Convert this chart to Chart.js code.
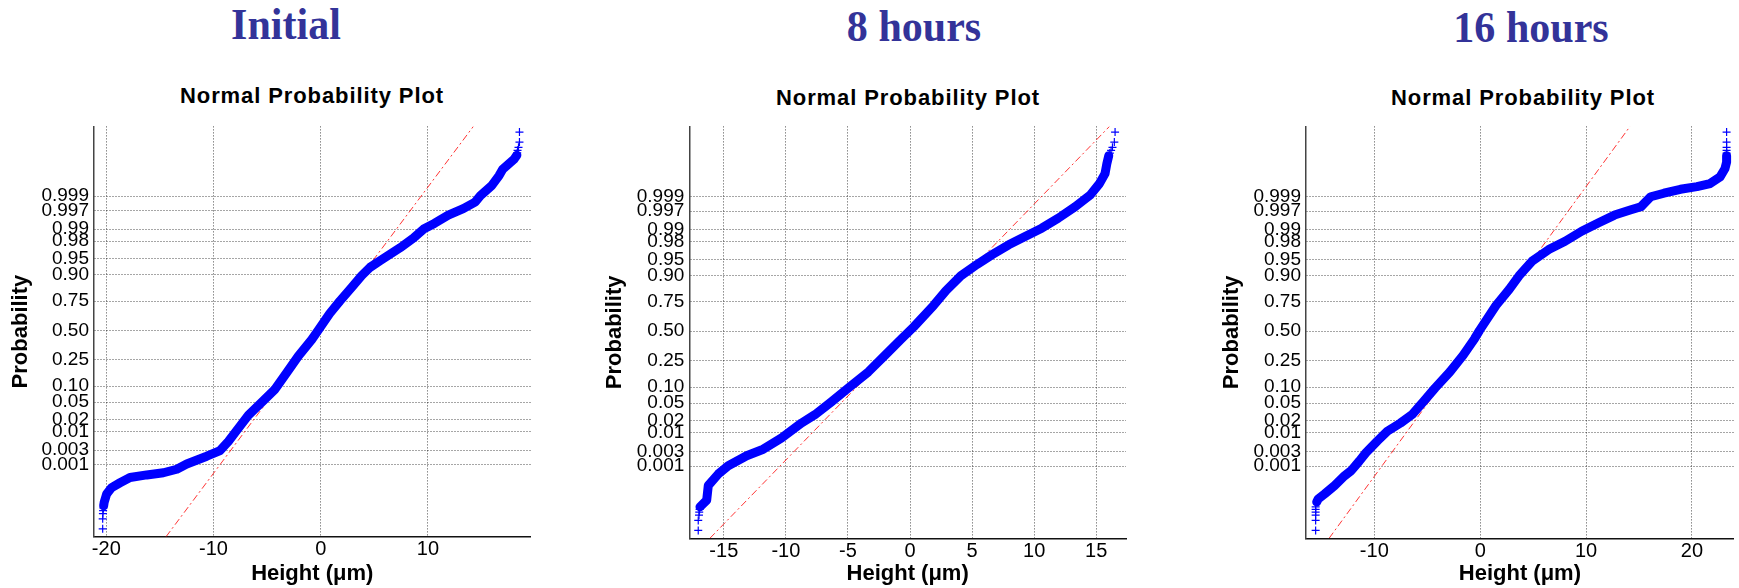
<!DOCTYPE html>
<html>
<head>
<meta charset="utf-8">
<script src="https://cdn.jsdelivr.net/npm/chart.js@4.4.1/dist/chart.umd.min.js"></script>
<style>
  html, body { margin: 0; padding: 0; background: #fff; }
  body { width: 1739px; height: 588px; position: relative; overflow: hidden; font-family: "Liberation Sans", Arial, sans-serif; }
  .stage-title { position: absolute; font-family: "Liberation Serif", "Times New Roman", serif; font-weight: bold; font-size: 44px; line-height: 44px; color: #333399; white-space: nowrap; transform: translateX(-50%) scaleX(0.955); }
  .plot-title { position: absolute; font-weight: bold; font-size: 22px; line-height: 22px; letter-spacing: 0.9px; color: #000; white-space: nowrap; transform: translateX(-50%); }
  canvas { position: absolute; top: 110px; }
</style>
</head>
<body>
  <div class="stage-title" style="left:286px; top:3px;">Initial</div>
  <div class="stage-title" style="left:914px; top:5px;">8 hours</div>
  <div class="stage-title" style="left:1531px; top:6px;">16 hours</div>

  <div class="plot-title" style="left:312px; top:85px;">Normal Probability Plot</div>
  <div class="plot-title" style="left:908px; top:87px;">Normal Probability Plot</div>
  <div class="plot-title" style="left:1523px; top:87px;">Normal Probability Plot</div>

  <canvas id="initialChart" width="560" height="478" style="left:0px;"></canvas>
  <canvas id="eightChart" width="580" height="478" style="left:570px;"></canvas>
  <canvas id="sixteenChart" width="559" height="478" style="left:1180px;"></canvas>

<script>
// probability axis labels (plotted at their standard normal quantiles)
const probLabels = ["0.001", "0.003", "0.01", "0.02", "0.05", "0.10", "0.25", "0.50", "0.75", "0.90", "0.95", "0.98", "0.99", "0.997", "0.999"];

// Initial
const initialXTicks = [-20, -10, 0, 10];
const initialHeight = [-20.25, -20.2, -19.97, -19.5, -18.72, -17.79, -16.23, -14.68, -13.43, -12.5, -10.63, -9.39, -8.62, -7.69, -6.75, -5.5, -4.26, -3.17, -2.09, -0.84, -0.25, 0.84, 1.8, 2.89, 3.82, 4.6, 5.53, 7.4, 8.64, 9.6, 10.6, 11.9, 13.3, 14.4, 14.9, 15.95, 16.64, 16.99, 18.02, 18.3];
const initialQuantile = [-4.03, -3.95, -3.76, -3.61, -3.5, -3.38, -3.32, -3.27, -3.19, -3.07, -2.89, -2.76, -2.55, -2.25, -1.95, -1.65, -1.35, -0.97, -0.59, -0.21, 0.0, 0.39, 0.68, 0.99, 1.26, 1.45, 1.6, 1.9, 2.12, 2.33, 2.46, 2.65, 2.8, 2.95, 3.1, 3.33, 3.56, 3.71, 3.93, 4.03];
const initialTailHeight = [-20.34, -20.34, -20.32, -20.3, -20.28, 18.33, 18.36, 18.45, 18.54, 18.54];
const initialTailQuantile = [-4.56, -4.33, -4.21, -4.14, -4.08, 4.08, 4.14, 4.21, 4.33, 4.56];
const initialFitHeight = [-14.43, 14.24];
const initialFitQuantile = [-4.74, 4.69];

// 8 hours
const eightXTicks = [-15, -10, -5, 0, 5, 10, 15];
const eightHeight = [-16.92, -16.38, -16.25, -15.45, -14.64, -13.16, -11.82, -10.34, -8.73, -7.66, -6.31, -4.97, -3.36, -2.01, -0.67, 0.3, 1.9, 2.9, 4.1, 5.4, 6.65, 7.95, 9.27, 10.61, 11.95, 13.3, 14.52, 15.26, 15.71, 15.86, 16.01];
const eightQuantile = [-4.02, -3.87, -3.53, -3.27, -3.08, -2.85, -2.7, -2.44, -2.1, -1.91, -1.61, -1.3, -0.93, -0.55, -0.17, 0.1, 0.59, 0.93, 1.27, 1.53, 1.76, 1.98, 2.17, 2.36, 2.59, 2.85, 3.12, 3.38, 3.61, 3.84, 4.02];
const eightTailHeight = [-17.06, -17.06, -17.0, -16.98, -16.95, 16.1, 16.2, 16.31, 16.46, 16.52];
const eightTailQuantile = [-4.56, -4.33, -4.21, -4.14, -4.08, 4.08, 4.14, 4.21, 4.33, 4.56];
const eightFitHeight = [-16.12, 16.07];
const eightFitQuantile = [-4.74, 4.69];

// 16 hours
const sixteenXTicks = [-10, 0, 10, 20];
const sixteenHeight = [-15.44, -15.3, -14.67, -13.74, -12.81, -12.18, -11.41, -10.78, -9.7, -8.77, -7.52, -6.44, -5.35, -4.26, -2.86, -1.61, -0.53, -0.06, 1.49, 2.74, 3.67, 4.92, 6.47, 8.02, 9.58, 11.14, 12.69, 14.24, 15.18, 16.11, 17.35, 18.91, 20.47, 21.71, 22.64, 23.11, 23.27, 23.27];
const sixteenQuantile = [-3.91, -3.84, -3.72, -3.53, -3.31, -3.19, -2.97, -2.78, -2.51, -2.29, -2.1, -1.91, -1.61, -1.3, -0.93, -0.55, -0.17, 0.02, 0.59, 0.96, 1.27, 1.61, 1.87, 2.06, 2.29, 2.48, 2.66, 2.78, 2.85, 3.08, 3.16, 3.25, 3.31, 3.38, 3.53, 3.72, 3.87, 4.02];
const sixteenTailHeight = [-15.54, -15.54, -15.54, -15.54, -15.54, -15.54, 23.27, 23.27, 23.27, 23.27, 23.27];
const sixteenTailQuantile = [-4.56, -4.33, -4.21, -4.14, -4.08, -4.02, 4.08, 4.14, 4.21, 4.33, 4.56];
const sixteenFitHeight = [-14.27, 14.15];
const sixteenFitQuantile = [-4.74, 4.69];

const FONT = '"Liberation Sans", Arial, sans-serif';
const CANVAS_TOP = 110;
const CANVAS_BOTTOM = 588;

// inverse standard normal CDF (Acklam)
function normInv(p) {
  const a = [-39.69683028665376, 220.9460984245205, -275.9285104469687, 138.3577518672690, -30.66479806614716, 2.506628277459239];
  const b = [-54.47609879822406, 161.5858368580409, -155.6989798598866, 66.80131188771972, -13.28068155288572];
  const c = [-0.007784894002430293, -0.3223964580411365, -2.400758277161838, -2.549732539343734, 4.374664141464968, 2.938163982698783];
  const d = [0.007784695709041462, 0.3224671290700398, 2.445134137142996, 3.754408661907416];
  const tail = q => (((((c[0] * q + c[1]) * q + c[2]) * q + c[3]) * q + c[4]) * q + c[5]) / ((((d[0] * q + d[1]) * q + d[2]) * q + d[3]) * q + 1);
  if (p < 0.02425) return tail(Math.sqrt(-2 * Math.log(p)));
  if (p > 1 - 0.02425) return -tail(Math.sqrt(-2 * Math.log(1 - p)));
  const q = p - 0.5, r = q * q;
  return (((((a[0] * r + a[1]) * r + a[2]) * r + a[3]) * r + a[4]) * r + a[5]) * q /
    (((((b[0] * r + b[1]) * r + b[2]) * r + b[3]) * r + b[4]) * r + 1);
}

const toPoints = (xs, ys) => xs.map((x, i) => ({ x, y: ys[i] }));

function renderPanel(canvasId, panel) {
  const canvas = document.getElementById(canvasId);
  const canvasLeft = parseFloat(canvas.style.left);
  const canvasWidth = canvas.width;

  new Chart(canvas, {
    type: "scatter",
    data: {
      datasets: [
        {
          data: toPoints(panel.height, panel.quantile),
          showLine: true,
          borderColor: "#0000ff",
          borderWidth: 9,
          borderJoinStyle: "round",
          borderCapStyle: "round",
          pointRadius: 0,
          order: 1,
        },
        {
          data: toPoints(panel.tailHeight, panel.tailQuantile),
          showLine: false,
          pointStyle: "cross",
          pointRadius: 4,
          pointBorderWidth: 1.2,
          pointBorderColor: "#0000ff",
          order: 2,
        },
        {
          data: toPoints(panel.fitHeight, panel.fitQuantile),
          showLine: true,
          borderColor: "rgba(255,0,0,0.8)",
          borderWidth: 1,
          borderDash: [7, 3, 2, 3],
          pointRadius: 0,
          order: 3,
        },
      ],
    },
    options: {
      responsive: false,
      animation: false,
      events: [],
      layout: {
        padding: {
          left: 0,
          top: panel.plotTop - CANVAS_TOP,
          right: canvasWidth - (panel.plotRight - canvasLeft),
          bottom: 0,
        },
      },
      plugins: { legend: { display: false }, tooltip: { enabled: false } },
      scales: {
        x: {
          type: "linear",
          position: "bottom",
          min: panel.xMin,
          max: panel.xMax,
          afterBuildTicks: scale => { scale.ticks = panel.xTicks.map(v => ({ value: v })); },
          afterFit: scale => { scale.height = CANVAS_BOTTOM - panel.plotBottom; },
          ticks: { autoSkip: false, maxRotation: 0, padding: 1, color: "#000", font: { family: FONT, size: 20 }, callback: v => String(v) },
          grid: { color: "rgba(0,0,0,0.7)", lineWidth: 1, drawTicks: false },
          border: { display: true, color: "#111", width: 1.5, dash: [1, 2] },
          title: { display: true, text: "Height (μm)", color: "#000", font: { family: FONT, size: 22, weight: "bold" }, padding: { top: 0, bottom: 1 } },
        },
        y: {
          type: "linear",
          position: "left",
          min: panel.yMin,
          max: panel.yMax,
          afterBuildTicks: scale => { scale.ticks = probLabels.map(p => ({ value: normInv(parseFloat(p)) })); },
          afterFit: scale => { scale.width = panel.plotLeft - canvasLeft; },
          ticks: { autoSkip: false, padding: 5, color: "#000", font: { family: FONT, size: 19 }, callback: (v, i) => probLabels[i] },
          grid: { color: "rgba(0,0,0,0.7)", lineWidth: 1, drawTicks: false },
          border: { display: true, color: "#444", width: 1.5, dash: [1, 2] },
          title: { display: true, text: "Probability", color: "#000", font: { family: FONT, size: 22, weight: "bold" }, padding: { top: panel.yTitlePad, bottom: 0 } },
        },
      },
    },
  });
}

document.addEventListener("DOMContentLoaded", () => {
  renderPanel("initialChart", {
    height: initialHeight, quantile: initialQuantile,
    tailHeight: initialTailHeight, tailQuantile: initialTailQuantile,
    fitHeight: initialFitHeight, fitQuantile: initialFitQuantile,
    xTicks: initialXTicks, xMin: -21.15, xMax: 19.57, yMin: -4.74, yMax: 4.69,
    plotLeft: 94, plotRight: 530.5, plotTop: 120, plotBottom: 536.7, yTitlePad: 7.3,
  });
  renderPanel("eightChart", {
    height: eightHeight, quantile: eightQuantile,
    tailHeight: eightTailHeight, tailQuantile: eightTailQuantile,
    fitHeight: eightFitHeight, fitQuantile: eightFitQuantile,
    xTicks: eightXTicks, xMin: -17.78, xMax: 17.4, yMin: -4.74, yMax: 4.69,
    plotLeft: 689.3, plotRight: 1126, plotTop: 122.3, plotBottom: 538.3, yTitlePad: 31.4,
  });
  renderPanel("sixteenChart", {
    height: sixteenHeight, quantile: sixteenQuantile,
    tailHeight: sixteenTailHeight, tailQuantile: sixteenTailQuantile,
    fitHeight: sixteenFitHeight, fitQuantile: sixteenFitQuantile,
    xTicks: sixteenXTicks, xMin: -16.45, xMax: 23.95, yMin: -4.74, yMax: 4.69,
    plotLeft: 1306, plotRight: 1739, plotTop: 122.3, plotBottom: 538.3, yTitlePad: 38.4,
  });
});
</script>
</body>
</html>
